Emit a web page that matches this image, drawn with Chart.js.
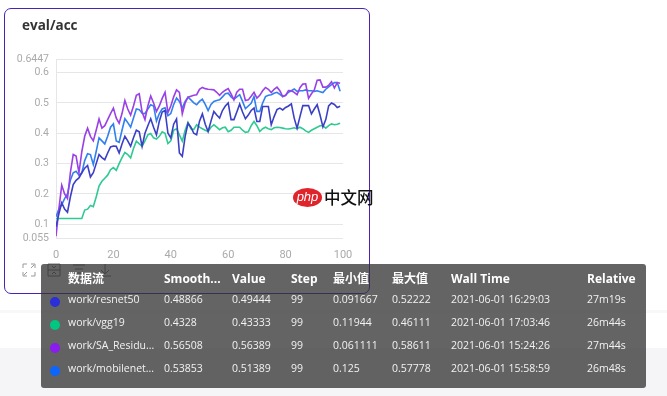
<!DOCTYPE html>
<html>
<head>
<meta charset="utf-8">
<title>eval/acc</title>
<script src="https://cdn.jsdelivr.net/npm/chart.js@4"></script>
<style>
html, body { margin: 0; padding: 0; background: #fff; overflow: hidden; }
#page { position: relative; width: 667px; height: 396px; overflow: hidden; font-family: "Open Sans", "Noto Sans CJK SC", sans-serif; }
#band { position: absolute; left: 0; top: 310px; width: 667px; height: 3px; background: #f8f8f9; }
#foot { position: absolute; left: 0; top: 348px; width: 667px; height: 48px; background: #f5f5f7; }
#card { position: absolute; left: 4px; top: 8px; width: 364px; height: 284px; border: 1px solid #4a22b8; border-radius: 7px; background: #fff; }
#title { position: absolute; left: 22px; top: 16px; font: bold 13.5px "Open Sans", sans-serif; color: #333; }
#c { position: absolute; left: 0; top: 0; }
.icon { position: absolute; top: 263px; }
#logo { position: absolute; left: 293px; top: 188px; width: 29px; height: 19px; border-radius: 50%; background: #e0242b; color: #fff; font: italic 13px/18px "Liberation Sans", sans-serif; text-align: center; }
#logoText { position: absolute; left: 324px; top: 187px; font: 500 16.5px/20px "Noto Sans CJK SC", sans-serif; color: #111; }
#panel { position: absolute; left: 41px; top: 264px; width: 605px; height: 124px; border-radius: 3px; background: rgba(51,51,51,.76); }
#panel span { position: absolute; color: #f2f2f2; font-size: 10.5px; line-height: 14px; white-space: nowrap; }
#panel span.h { font-weight: bold; font-size: 12px; color: #fff; }
#panel i { position: absolute; left: 9px; width: 10px; height: 10px; border-radius: 50%; }
</style>
</head>
<body>
<div id="page">
  <div id="band"></div>
  <div id="foot"></div>
  <div id="card"></div>
  <canvas id="c" width="667" height="396"></canvas>
  <div id="title">eval/acc</div>
  <svg class="icon" style="left:22px" width="14" height="14" fill="none" stroke="#999"><path d="M1 5V1h4M9 1h4v4M13 9v4H9M5 13H1V9M9 5l3-3M5 9l-3 3"/></svg>
  <svg class="icon" style="left:47px" width="14" height="14" fill="none" stroke="#777"><path d="M1 1h12v12H1zM1 7h12M5 3l2 2 2-2M5 11l2-2 2 2"/></svg>
  <svg class="icon" style="left:72px" width="14" height="14" fill="none" stroke="#777"><path d="M1 2h12M3 6h8M5 10h4"/></svg>
  <svg class="icon" style="left:98px" width="14" height="14" fill="none" stroke="#777"><path d="M7 1v9M3 7l4 4 4-4M1 13h12"/></svg>
  <div id="logo">php</div>
  <div id="logoText">中文网</div>
  <div id="panel"></div>
</div>
<script>
// x axis steps
var steps = [];
for (var s = 0; s < 100; s++) steps.push(s);

var yTicks = [0.055, 0.1, 0.2, 0.3, 0.4, 0.5, 0.6, 0.6447];
var xTicks = [0, 20, 40, 60, 80, 100];

var resnet = [.0917,.135,.171,.15,.14,.19,.231,.245,.253,.27,.285,.294,.256,.27,.30,.33,.32,.313,.335,.355,
.358,.357,.335,.365,.39,.375,.357,.385,.41,.405,.357,.40,.425,.448,.42,.395,.44,.47,.475,.40,
.385,.43,.447,.335,.324,.39,.433,.42,.40,.395,.44,.464,.43,.406,.44,.472,.46,.45,.475,.49,
.50,.445,.445,.47,.496,.47,.448,.46,.475,.483,.439,.439,.488,.488,.488,.428,.455,.478,.483,.477,
.485,.49,.497,.45,.417,.455,.491,.491,.491,.464,.48,.494,.46,.421,.445,.49,.50,.495,.485,.4887];

var vgg = [.1194,.1194,.1194,.1194,.1194,.1194,.1194,.1194,.1194,.1194,.147,.15,.162,.158,.19,.226,.242,.252,.262,.28,
.287,.278,.30,.32,.337,.33,.319,.35,.374,.365,.357,.375,.395,.399,.385,.381,.39,.405,.40,.366,
.375,.41,.415,.395,.374,.41,.436,.415,.412,.428,.42,.415,.41,.406,.42,.428,.42,.412,.418,.42,
.405,.41,.42,.42,.42,.41,.403,.405,.425,.439,.425,.406,.415,.42,.415,.412,.418,.42,.419,.417,
.415,.414,.416,.418,.415,.42,.415,.408,.403,.41,.415,.42,.425,.425,.417,.425,.431,.428,.43,.4328];

var saResidual = [.0611,.15,.229,.20,.185,.27,.33,.325,.27,.34,.39,.417,.39,.375,.41,.447,.417,.425,.445,.465,
.483,.45,.433,.465,.508,.48,.46,.49,.525,.53,.47,.445,.49,.523,.50,.472,.49,.515,.535,.468,
.49,.52,.543,.535,.464,.50,.519,.522,.525,.527,.545,.551,.547,.545,.544,.543,.535,.525,.535,.542,
.547,.53,.51,.535,.545,.545,.508,.51,.522,.535,.516,.525,.54,.551,.545,.534,.545,.552,.54,.521,
.525,.541,.54,.535,.527,.55,.562,.563,.515,.53,.543,.575,.576,.552,.552,.558,.57,.549,.567,.5651];

var mobilenet = [.125,.15,.165,.185,.2,.245,.27,.275,.262,.27,.31,.333,.33,.297,.34,.385,.375,.365,.39,.42,
.431,.375,.37,.41,.448,.435,.42,.45,.48,.478,.466,.465,.48,.494,.49,.44,.465,.48,.484,.458,
.465,.495,.516,.505,.483,.505,.519,.51,.50,.494,.505,.512,.495,.475,.495,.505,.508,.51,.52,.53,
.532,.52,.512,.52,.527,.505,.481,.49,.499,.521,.472,.472,.50,.521,.525,.527,.532,.535,.528,.521,
.525,.535,.54,.546,.538,.54,.54,.543,.54,.54,.538,.54,.537,.534,.545,.553,.56,.567,.567,.5385];

var seriesNames = ["work/resnet50", "work/vgg19", "work/SA_Residu...", "work/mobilenet..."];
var lineColors = ["#3b3fc6", "#2fca92", "#9a40e6", "#3180f0"];
var dotColors = ["#2a2fd8", "#00c880", "#8a1cf0", "#0a66ff"];

var headers = ["数据流", "Smooth...", "Value", "Step", "最小值", "最大值", "Wall Time", "Relative"];
var smoothed = ["0.48866", "0.4328", "0.56508", "0.53853"];
var values = ["0.49444", "0.43333", "0.56389", "0.51389"];
var stepCol = ["99", "99", "99", "99"];
var minCol = ["0.091667", "0.11944", "0.061111", "0.125"];
var maxCol = ["0.52222", "0.46111", "0.58611", "0.57778"];
var wallCol = ["2021-06-01 16:29:03", "2021-06-01 17:03:46", "2021-06-01 15:24:26", "2021-06-01 15:58:59"];
var relCol = ["27m19s", "26m44s", "27m44s", "26m48s"];

// table overlay
var colX = [27, 123, 191, 250, 292, 351, 410, 546];
var rowY = [28, 51, 74, 97];
var panel = document.getElementById("panel");
function addText(txt, x, y, cls) {
	var el = document.createElement("span");
	el.textContent = txt;
	el.style.left = x + "px";
	el.style.top = y + "px";
	if (cls) el.className = cls;
	panel.appendChild(el);
}
headers.forEach(function(h, k) { addText(h, colX[k], 8, "h"); });
seriesNames.forEach(function(n, r) {
	var dot = document.createElement("i");
	dot.style.top = (rowY[r] + 5) + "px";
	dot.style.background = dotColors[r];
	panel.appendChild(dot);
	var row = [n, smoothed[r], values[r], stepCol[r], minCol[r], maxCol[r], wallCol[r], relCol[r]];
	row.forEach(function(t, k) { addText(t, colX[k], rowY[r], ""); });
});

var allSeries = [resnet, vgg, saResidual, mobilenet];
var gridColor = "#e6e6e6";

new Chart(document.getElementById("c"), {
	type: "line",
	data: {
		labels: steps,
		datasets: allSeries.map(function(d, k) {
			return {
				label: seriesNames[k],
				data: d,
				borderColor: lineColors[k],
				borderWidth: 1.6,
				pointRadius: 0,
				fill: false,
				tension: 0
			};
		})
	},
	options: {
		responsive: false,
		animation: false,
		layout: { padding: { left: 0, top: 59, right: 324, bottom: 128 } },
		plugins: { legend: { display: false }, tooltip: { enabled: false } },
		scales: {
			x: {
				type: "linear",
				min: 0,
				max: 100,
				grid: { display: false },
				border: { display: false },
				afterBuildTicks: function(scale) { scale.ticks = xTicks.map(function(v) { return { value: v }; }); },
				afterFit: function(scale) { scale.height = 30; },
				ticks: { color: "#aaa", font: { family: "Roboto", size: 11 }, maxRotation: 0, autoSkip: false, padding: 3 }
			},
			y: {
				min: 0.055,
				max: 0.6447,
				grid: { color: gridColor, lineWidth: 1, drawTicks: false },
				border: { display: true, color: gridColor },
				afterBuildTicks: function(scale) { scale.ticks = yTicks.map(function(v) { return { value: v }; }); },
				afterFit: function(scale) { scale.width = 56; },
				ticks: {
					color: "#aaa",
					font: { family: "Roboto", size: 10.5 },
					autoSkip: false,
					padding: 7,
					callback: function(v) { return String(v); }
				}
			}
		}
	}
});
</script>
</body>
</html>
